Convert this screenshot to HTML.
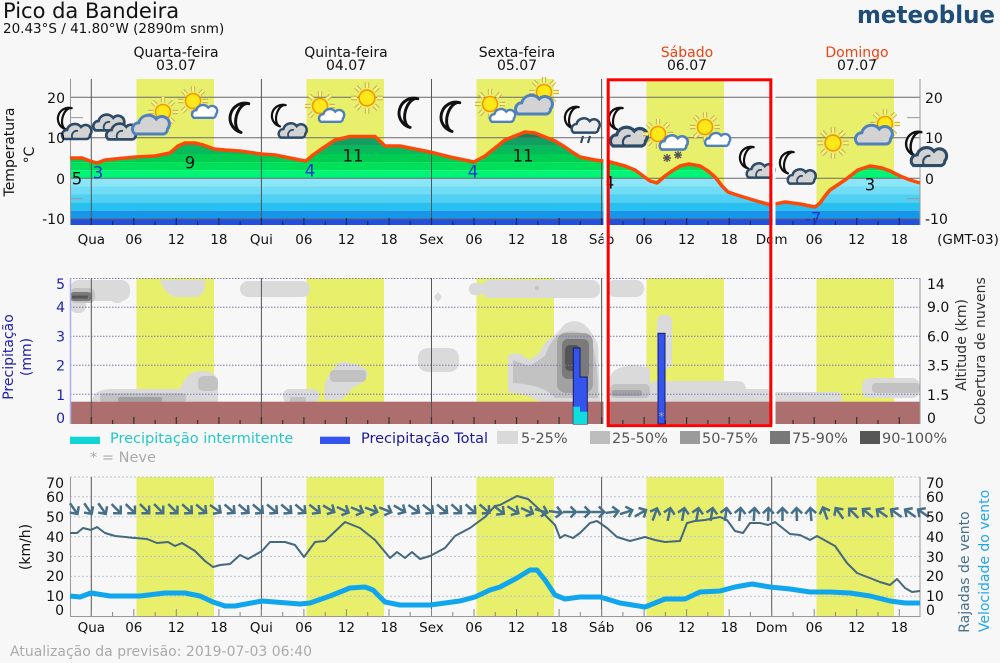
<!DOCTYPE html>
<html><head><meta charset="utf-8"><style>
html,body{margin:0;padding:0;background:#f7f7f7;}
svg{display:block;font-family:"DejaVu Sans","Liberation Sans",sans-serif;}
</style></head><body>
<svg width="1000" height="663" viewBox="0 0 1000 663" xmlns="http://www.w3.org/2000/svg">
<defs>
<path id="cl" d="M-12,8 A5,5 0 0 1 -9,-1 A8,8 0 0 1 5,-4 A6,6 0 0 1 14,4 A4,4 0 0 1 11,8 Z"/>
<g id="cN"><use href="#cl" fill="#d3d3d3" stroke="#2d4b66" stroke-width="2.6"/><path d="M-3,8 A5,5 0 0 1 2,0" fill="none" stroke="#2d4b66" stroke-width="1.8"/></g>
<g id="cD"><use href="#cl" fill="#d3d3d3" stroke="#4f81bd" stroke-width="2.4"/></g>
<g id="cW"><use href="#cl" fill="#ffffff" stroke="#4f81bd" stroke-width="2.8"/></g>
<g id="cNW"><use href="#cl" fill="#eeeeee" stroke="#2d4b66" stroke-width="2.6"/></g>
<g id="sun">
<g stroke="#b0a060" stroke-width="4.2" stroke-linecap="butt">
<path d="M9.5,0H15M-9.5,0H-15M0,9.5V15M0,-9.5V-15M6.7,6.7L10.6,10.6M-6.7,-6.7L-10.6,-10.6M6.7,-6.7L10.6,-10.6M-6.7,6.7L-10.6,10.6"/></g>
<g stroke="#fff27a" stroke-width="2.6">
<path d="M9.5,0H15M-9.5,0H-15M0,9.5V15M0,-9.5V-15M6.7,6.7L10.6,10.6M-6.7,-6.7L-10.6,-10.6M6.7,-6.7L10.6,-10.6M-6.7,6.7L-10.6,10.6"/></g>
<circle r="7.5" fill="#ffe81a" stroke="#f29a00" stroke-width="1.6"/>
</g>
<path id="moon" d="M3,-11 A11,11 0 1 0 3,11 A6.5,11 0 0 1 3,-11 Z" fill="#fff" stroke="#111" stroke-width="2.2" stroke-linejoin="round"/>
<path id="arr" d="M-7,0 L6,0 M0.5,-5.5 L6,0 L0.5,5.5" fill="none" stroke="#46708a" stroke-width="2.5"/>
<path id="tkL" d="M91.3 0v-7M133.8 0v-7M176.3 0v-7M218.9 0v-7M261.4 0v-7M303.9 0v-7M346.4 0v-7M389 0v-7M431.5 0v-7M474 0v-7M516.5 0v-7M559.1 0v-7M601.6 0v-7M644.1 0v-7M686.6 0v-7M729.2 0v-7M771.7 0v-7M814.2 0v-7M856.7 0v-7M899.3 0v-7"/>
<path id="tkS" d="M112.6 0v-4M155.1 0v-4M197.6 0v-4M240.1 0v-4M282.7 0v-4M325.2 0v-4M367.7 0v-4M410.2 0v-4M452.8 0v-4M495.3 0v-4M537.8 0v-4M580.3 0v-4M622.9 0v-4M665.4 0v-4M707.9 0v-4M750.4 0v-4M793 0v-4M835.5 0v-4M878 0v-4"/>
<path id="dayl" d="M91.3 0V1M261.4 0V1M431.5 0V1M601.6 0V1M771.7 0V1"/>
<clipPath id="tclip"><polygon points="70,225 70,158 82,158 90,161 97,163 105,160 115,159 136,157 155,156 170,153 178,146 185,143 195,143 203,145 214,149 225,150 240,151 261,154 275,155 290,158 300,160 306,161 313,155 320,150 335,140 350,136.5 375,136.5 385,146 400,146 415,149 430,152 450,157 474,162 485,156 495,148 505,140 525,132 535,133 545,137 555,141 565,147 572,152 580,157 595,160 610,162 625,166 635,170 650,181 657,183 665,176 672,171 680,166 689,164 700,166 708,171 715,177 722,186 728,192 740,196 760,202 771,205 785,202 800,204 815,207 820,203 825,196 830,190 845,180 858,170 870,166 882,168 890,171 900,176 910,180 920,183 920,225"/></clipPath>
</defs>

<!-- Header -->
<text x="3" y="18" font-size="21" fill="#111">Pico da Bandeira</text>
<text x="3" y="33" font-size="13.5" fill="#111">20.43°S / 41.80°W (2890m snm)</text>
<text x="857" y="23" font-size="24" font-weight="bold" fill="#1e4d78" textLength="138" lengthAdjust="spacingAndGlyphs">meteoblue</text>

<g font-size="14" text-anchor="middle" fill="#111">
<text x="176" y="57">Quarta-feira</text><text x="176" y="70">03.07</text>
<text x="346" y="57">Quinta-feira</text><text x="346" y="70">04.07</text>
<text x="517" y="57">Sexta-feira</text><text x="517" y="70">05.07</text>
<text x="687" y="57" fill="#ee4411">Sábado</text><text x="687" y="70">06.07</text>
<text x="857" y="57" fill="#ee4411">Domingo</text><text x="857" y="70">07.07</text>
</g>

<!-- ============ TEMPERATURE PANEL ============ -->
<g fill="#e8ef6a">
<rect x="136.5" y="79" width="77.5" height="146"/><rect x="306.5" y="79" width="77.5" height="146"/><rect x="476.5" y="79" width="77.5" height="146"/><rect x="646.5" y="79" width="77.5" height="146"/><rect x="816.5" y="79" width="77.5" height="146"/>
</g>
<g clip-path="url(#tclip)">
<rect x="70" y="110" width="850" height="19.7" fill="#0a7a4f"/>
<rect x="70" y="129.7" width="850" height="8.1" fill="#0b8553"/>
<rect x="70" y="137.8" width="850" height="8.1" fill="#10a162"/>
<rect x="70" y="145.9" width="850" height="8.1" fill="#06b95a"/>
<rect x="70" y="154" width="850" height="8.1" fill="#00cc52"/>
<rect x="70" y="162.1" width="850" height="8.1" fill="#00df5a"/>
<rect x="70" y="170.2" width="850" height="8.1" fill="#00f577"/>
<rect x="70" y="178.3" width="850" height="8.1" fill="#8ae6f7"/>
<rect x="70" y="186.4" width="850" height="8.1" fill="#70dcf5"/>
<rect x="70" y="194.5" width="850" height="8.1" fill="#50d0f3"/>
<rect x="70" y="202.6" width="850" height="8.1" fill="#28c0f1"/>
<rect x="70" y="210.7" width="850" height="8.1" fill="#1696ea"/>
<rect x="70" y="218.8" width="850" height="6.2" fill="#2151dc"/>
</g>
<g stroke="#6a6a6a" stroke-width="1">
<path d="M70 97.3H920M70 137.8H920M70 178.3H920M70 218.8H920"/>
<path d="M70 117.6H83M70 198.6H83M907 117.6H920M907 198.6H920" stroke="#999"/>
</g>
<use href="#dayl" transform="translate(0,79) scale(1,146)" stroke="#555" stroke-width="1" />
<path d="M70.5 79V225M920 79V225" stroke="#999" stroke-width="1"/>
<use href="#tkL" x="0" y="225" stroke="#1a2a66" stroke-width="1.2"/>
<use href="#tkS" x="0" y="225" stroke="#1a2a66" stroke-width="1.2"/>
<polyline fill="none" stroke="#fa4a0a" stroke-width="3.5" stroke-linejoin="round" points="70,158 82,158 90,161 97,163 105,160 115,159 136,157 155,156 170,153 178,146 185,143 195,143 203,145 214,149 225,150 240,151 261,154 275,155 290,158 300,160 306,161 313,155 320,150 335,140 350,136.5 375,136.5 385,146 400,146 415,149 430,152 450,157 474,162 485,156 495,148 505,140 525,132 535,133 545,137 555,141 565,147 572,152 580,157 595,160 610,162 625,166 635,170 650,181 657,183 665,176 672,171 680,166 689,164 700,166 708,171 715,177 722,186 728,192 740,196 760,202 771,205 785,202 800,204 815,207 820,203 825,196 830,190 845,180 858,170 870,166 882,168 890,171 900,176 910,180 920,183"/>

<g font-size="16.5" text-anchor="middle" dominant-baseline="central">
<text x="77" y="179" fill="#111">5</text>
<text x="98" y="173" fill="#2233cc">3</text>
<text x="190" y="163" fill="#111">9</text>
<text x="310" y="171" fill="#2233cc">4</text>
<text x="353" y="156" fill="#111">11</text>
<text x="473" y="172" fill="#2233cc">4</text>
<text x="523" y="156" fill="#111">11</text>
<text x="609" y="183" fill="#111">4</text>
<text x="813" y="219" fill="#2233cc">-7</text>
<text x="870" y="185" fill="#111">3</text>
</g>

<!-- icons -->
<use href="#moon" transform="translate(66,118) rotate(15) scale(1.0)"/>
<use href="#cN" transform="translate(76,131) scale(1.0)"/>
<use href="#cN" transform="translate(108,122) scale(1.05)"/>
<use href="#cN" transform="translate(121,131) scale(1.05)"/>
<use href="#sun" transform="translate(163,112) scale(1.0)"/>
<use href="#cD" transform="translate(150,124) scale(1.25)"/>
<use href="#sun" transform="translate(193,101) scale(1.0)"/>
<use href="#cW" transform="translate(204,111) scale(0.85)"/>
<use href="#moon" transform="translate(241,117) rotate(15) scale(1.35)"/>
<use href="#moon" transform="translate(280,115) rotate(15) scale(1.0)"/>
<use href="#cN" transform="translate(292,130) scale(0.95)"/>
<use href="#sun" transform="translate(320,106) scale(1.0)"/>
<use href="#cW" transform="translate(331,115) scale(0.85)"/>
<use href="#sun" transform="translate(367,98) scale(1.05)"/>
<use href="#moon" transform="translate(410,112) rotate(15) scale(1.35)"/>
<use href="#moon" transform="translate(452,116) rotate(15) scale(1.35)"/>
<use href="#sun" transform="translate(490,104) scale(1.0)"/>
<use href="#cW" transform="translate(502,115) scale(0.85)"/>
<use href="#sun" transform="translate(544,92) scale(1.0)"/>
<use href="#cD" transform="translate(533,104) scale(1.25)"/>
<use href="#moon" transform="translate(573,117) rotate(15) scale(1.0)"/>
<use href="#cNW" transform="translate(585,125) scale(0.95)"/>
<path d="M583,136 l-2,7 M590,136 l-2,7" stroke="#2d4b66" stroke-width="2.2"/>
<use href="#moon" transform="translate(617,118) rotate(15) scale(1.0)"/>
<use href="#cN" transform="translate(628,136) scale(1.25)"/>
<use href="#sun" transform="translate(658,134) scale(1.0)"/>
<use href="#cW" transform="translate(673,142) scale(0.95)"/>
<g stroke="#555" stroke-width="1.4"><path d="M663,158h8M667,154v8M664,155l6,6M670,155l-6,6 M674,155h8M678,151v8M675,152l6,6M681,152l-6,6"/></g>
<use href="#sun" transform="translate(705,127) scale(1.0)"/>
<use href="#cW" transform="translate(717,139) scale(0.85)"/>
<use href="#moon" transform="translate(748,157) rotate(15) scale(1.0)"/>
<use href="#cN" transform="translate(760,170) scale(0.95)"/>
<use href="#moon" transform="translate(788,162) rotate(15) scale(1.0)"/>
<use href="#cN" transform="translate(801,176) scale(0.95)"/>
<use href="#sun" transform="translate(833,143) scale(1.05)"/>
<use href="#sun" transform="translate(885,124) scale(1.0)"/>
<use href="#cD" transform="translate(873,134) scale(1.25)"/>
<use href="#moon" transform="translate(915,143) rotate(15) scale(1.1)"/>
<use href="#cN" transform="translate(928,156) scale(1.2)"/>

<!-- temp axis labels -->
<g font-size="14" fill="#111" dominant-baseline="central">
<g text-anchor="end"><text x="65" y="99">20</text><text x="65" y="139">10</text><text x="65" y="180">0</text><text x="65" y="220">-10</text></g>
<text x="925" y="99">20</text><text x="925" y="139">10</text><text x="925" y="180">0</text><text x="925" y="220">-10</text>
</g>
<text transform="translate(10,152) rotate(-90)" font-size="14" text-anchor="middle" dominant-baseline="central" fill="#111">Temperatura</text>
<text transform="translate(30,155) rotate(-90)" font-size="14" text-anchor="middle" dominant-baseline="central" fill="#111">°C</text>

<g font-size="13.5" text-anchor="middle" dominant-baseline="central" fill="#111">
<text x="91.3" y="240">Qua</text><text x="133.8" y="240">06</text><text x="176.3" y="240">12</text><text x="218.9" y="240">18</text>
<text x="261.4" y="240">Qui</text><text x="303.9" y="240">06</text><text x="346.4" y="240">12</text><text x="389" y="240">18</text>
<text x="431.5" y="240">Sex</text><text x="474" y="240">06</text><text x="516.5" y="240">12</text><text x="559.1" y="240">18</text>
<text x="601.6" y="240">Sáb</text><text x="644.1" y="240">06</text><text x="686.6" y="240">12</text><text x="729.2" y="240">18</text>
<text x="771.7" y="240">Dom</text><text x="814.2" y="240">06</text><text x="856.7" y="240">12</text><text x="899.3" y="240">18</text>
<text x="968" y="240">(GMT-03)</text>
</g>

<!-- ============ PRECIPITATION PANEL ============ -->
<g fill="#e8ef6a">
<rect x="136.5" y="278" width="77.5" height="146"/><rect x="306.5" y="278" width="77.5" height="146"/><rect x="476.5" y="278" width="77.5" height="146"/><rect x="646.5" y="278" width="77.5" height="146"/><rect x="816.5" y="278" width="77.5" height="146"/>
</g>
<!-- clouds light -->
<g fill="#dadada">
<rect x="70" y="280" width="60" height="21" rx="9"/>
<rect x="70" y="292" width="16" height="21" rx="7"/>
<rect x="110" y="290" width="14" height="13" rx="6"/>
<path d="M160,280 H205 Q206,296 195,297 H175 Q165,294 160,280 Z"/>
<rect x="240" y="281" width="70" height="16" rx="8"/>
<rect x="469" y="283" width="15" height="12" rx="5"/>
<path d="M438,292 l4,5 l-4,5 l-4,-5 Z"/>
<rect x="482" y="280" width="118" height="18" rx="8"/>
<rect x="607" y="280" width="37" height="17" rx="8"/>
<path d="M92,402 Q92,390 110,389 H180 Q186,372 200,371 Q218,370 218,385 V402 Z"/>
<circle cx="183" cy="389" r="3"/>
<rect x="283" y="389" width="36" height="14" rx="6"/>
<path d="M325,400 Q322,380 332,372 Q338,360 345,362 Q362,364 368,372 Q368,382 352,388 Q345,398 340,400 Z"/>
<rect x="418" y="348" width="41" height="24" rx="10"/>
<path d="M508,392 L508,356 Q512,352 520,354 L530,360 L540,352 Q545,340 552,338 Q560,330 565,324 Q575,318 585,325 Q595,335 598,345 L600,402 L540,402 Q530,395 508,392 Z"/>
<path d="M607,402 Q605,378 615,370 Q630,362 650,368 L650,402 Z"/>
<rect x="648" y="381" width="98" height="22" rx="8"/>
<rect x="738" y="389" width="34" height="14" rx="6"/>
<rect x="770" y="392" width="72" height="11" rx="5"/>
<rect x="862" y="378" width="58" height="20" rx="8"/>
<rect x="657" y="315" width="15" height="54" rx="6"/>
</g>
<!-- clouds mid -->
<g fill="#c2c2c2">
<rect x="70" y="288" width="25" height="15" rx="6"/>
<rect x="100" y="393" width="86" height="10" rx="4"/>
<rect x="198" y="376" width="20" height="15" rx="5"/>
<rect x="290" y="397" width="16" height="6" rx="2"/>
<rect x="330" y="370" width="36" height="12" rx="4"/>
<path d="M513,383 L513,360 L530,366 L545,356 Q550,340 560,334 Q575,328 588,336 Q598,350 598,398 L555,398 Q545,385 513,383 Z"/>
<rect x="610" y="384" width="40" height="14" rx="5"/>
<rect x="872" y="383" width="48" height="10" rx="4"/>
<circle cx="537" cy="288" r="2"/>
</g>
<g fill="#a2a2a2"><rect x="118" y="397" width="44" height="6" rx="2"/><rect x="557" y="333" width="36" height="60" rx="9"/><rect x="612" y="390" width="30" height="6" rx="2"/></g>
<g fill="#7a7a7a"><rect x="70" y="292" width="22" height="9" rx="4"/><rect x="562" y="339" width="27" height="40" rx="6"/></g>
<g fill="#555"><rect x="72" y="295.5" width="16" height="3" rx="1"/><rect x="565" y="345" width="15" height="26" rx="5"/></g>
<!-- ground band -->
<rect x="70" y="401.7" width="850" height="22.3" fill="#ad6e6e"/>
<!-- grid -->
<g stroke="#7777bb" stroke-width="1" stroke-dasharray="1.5,1.5">
<path d="M70 278.5H920M70 307.3H920M70 336.3H920M70 365.2H920M70 394.2H920"/>
</g>
<use href="#dayl" transform="translate(0,278) scale(1,146)" stroke="#555" stroke-width="1"/>
<path d="M70.5 278V424" stroke="#aab0ee" stroke-width="1.5"/>
<path d="M920 278V424" stroke="#999" stroke-width="1"/>
<use href="#tkL" x="0" y="424" stroke="#333" stroke-width="1.2"/>
<use href="#tkS" x="0" y="424" stroke="#333" stroke-width="1.2"/>
<!-- bars -->
<path d="M573.3,424 V348 H580 V377 H587.3 V424 Z" fill="#3355ee" stroke="#1a1a66" stroke-width="1"/>
<rect x="573.3" y="406.7" width="6.7" height="17.3" fill="#11dddd"/>
<rect x="580" y="411.7" width="7.3" height="12.3" fill="#11dddd"/>
<rect x="658" y="333.3" width="7" height="90.7" fill="#3355ee" stroke="#1a1a66" stroke-width="1"/>
<text x="661.5" y="420" font-size="11" text-anchor="middle" fill="#aaa">*</text>

<g font-size="14" dominant-baseline="central">
<g text-anchor="end" fill="#2020aa"><text x="65" y="285">5</text><text x="65" y="308">4</text><text x="65" y="337.5">3</text><text x="65" y="366.5">2</text><text x="65" y="396">1</text><text x="65" y="419">0</text></g>
<g fill="#111"><text x="927" y="285">14</text><text x="927" y="308">9.0</text><text x="927" y="337.5">6.0</text><text x="927" y="366.5">3.5</text><text x="927" y="396">1.5</text><text x="927" y="419">0</text></g>
</g>
<text transform="translate(9,357) rotate(-90)" font-size="14" text-anchor="middle" dominant-baseline="central" fill="#2020aa">Precipitação</text>
<text transform="translate(27,357) rotate(-90)" font-size="14" text-anchor="middle" dominant-baseline="central" fill="#2020aa">(mm)</text>
<text transform="translate(962,345) rotate(-90)" font-size="14" text-anchor="middle" dominant-baseline="central" fill="#333">Altitude (km)</text>
<text transform="translate(981,351) rotate(-90)" font-size="14" text-anchor="middle" dominant-baseline="central" fill="#333">Cobertura de nuvens</text>

<!-- legend -->
<rect x="70" y="436.7" width="30" height="7.3" fill="#11d4d4"/>
<text x="110" y="439" font-size="14.5" dominant-baseline="central" fill="#22c8cc">Precipitação intermitente</text>
<rect x="320" y="436.7" width="30" height="7.3" fill="#3355ee"/>
<text x="361" y="439" font-size="14.5" dominant-baseline="central" fill="#1a1a99">Precipitação Total</text>
<text x="90" y="458" font-size="14.5" dominant-baseline="central" fill="#aaaaaa">* = Neve</text>
<g font-size="14.5" dominant-baseline="central" fill="#555">
<rect x="497" y="431" width="21" height="13" fill="#d9d9d9"/><text x="521" y="439">5-25%</text>
<rect x="590" y="431" width="20" height="13" fill="#bdbdbd"/><text x="612" y="439">25-50%</text>
<rect x="680" y="431" width="20" height="13" fill="#9b9b9b"/><text x="702" y="439">50-75%</text>
<rect x="770" y="431" width="20" height="13" fill="#787878"/><text x="792" y="439">75-90%</text>
<rect x="860" y="431" width="20" height="13" fill="#565656"/><text x="882" y="439">90-100%</text>
</g>

<!-- ============ WIND PANEL ============ -->
<g fill="#e8ef6a">
<rect x="136.5" y="477" width="77.5" height="139"/><rect x="306.5" y="477" width="77.5" height="139"/><rect x="476.5" y="477" width="77.5" height="139"/><rect x="646.5" y="477" width="77.5" height="139"/><rect x="816.5" y="477" width="77.5" height="139"/>
</g>
<g stroke="#b8c4d6" stroke-width="1" stroke-dasharray="2,2">
<path d="M70 477H920M70 496.8H920M70 516.7H920M70 536.6H920M70 556.5H920M70 576.4H920M70 596.3H920"/>
</g>
<use href="#dayl" transform="translate(0,477) scale(1,139)" stroke="#555" stroke-width="1"/>
<path d="M70.5 477V616.5H920V477" fill="none" stroke="#999" stroke-width="1"/>
<use href="#tkL" x="0" y="616" stroke="#888" stroke-width="1"/>
<use href="#tkS" x="0" y="616" stroke="#888" stroke-width="1"/>

<polyline fill="none" stroke="#0fa6ee" stroke-width="5" stroke-linejoin="round" points="70,596 80,597 91,593 110,596 140,596 165,593 185,593 200,596 213,602 225,606 235,606 262,601 300,604 310,603 330,596 350,588 365,587 373,590 385,602 400,605 430,605 460,601 475,597 490,590 500,587 517,578 530,570 537,570 545,580 555,595 565,599 580,597 600,597 620,603 645,607 665,599 685,599 700,592 720,591 735,587 752,584 770,587 790,589 810,592 830,592 850,593 870,596 890,601 905,603 920,603"/>
<polyline fill="none" stroke="#44687f" stroke-width="2" stroke-linejoin="round" points="70,533 77,533 83,528 91,530 97,527 105,533 115,536 135,538 147,539 157,543 168,542 175,546 182,543 195,551 205,561 213,567 220,565 230,564 240,555 248,559 262,551 270,542 285,542 295,545 304,557 315,542 325,541 345,522 360,528 375,540 390,558 397,552 405,558 412,552 420,559 430,556 445,548 455,536 470,528 485,517 495,506 500,505 517,496 528,499 540,510 555,525 560,538 565,535 573,538 580,533 590,523 597,521 607,528 617,537 630,541 645,537 655,540 665,542 680,541 687,523 695,521 705,520 710,519 720,517 727,520 735,531 743,533 750,523 760,523 768,525 775,522 790,534 800,535 810,540 817,536 835,546 847,563 857,573 880,582 890,585 897,579 905,588 912,592 920,591"/>

<!-- wind arrows -->
<g>
<use href="#arr" transform="translate(74,509) rotate(55)"/>
<use href="#arr" transform="translate(88.2,509) rotate(55)"/>
<use href="#arr" transform="translate(102.3,509) rotate(55)"/>
<use href="#arr" transform="translate(116.5,509) rotate(45)"/>
<use href="#arr" transform="translate(130.7,509) rotate(45)"/>
<use href="#arr" transform="translate(144.9,509) rotate(45)"/>
<use href="#arr" transform="translate(159,509) rotate(45)"/>
<use href="#arr" transform="translate(173.2,509) rotate(45)"/>
<use href="#arr" transform="translate(187.4,509) rotate(42)"/>
<use href="#arr" transform="translate(201.5,509) rotate(40)"/>
<use href="#arr" transform="translate(215.7,509) rotate(35)"/>
<use href="#arr" transform="translate(229.9,509) rotate(40)"/>
<use href="#arr" transform="translate(244,509) rotate(40)"/>
<use href="#arr" transform="translate(258.2,509) rotate(40)"/>
<use href="#arr" transform="translate(272.4,509) rotate(40)"/>
<use href="#arr" transform="translate(286.6,509) rotate(40)"/>
<use href="#arr" transform="translate(300.7,509) rotate(40)"/>
<use href="#arr" transform="translate(314.9,509) rotate(38)"/>
<use href="#arr" transform="translate(329.1,509) rotate(30)"/>
<use href="#arr" transform="translate(343.2,510) rotate(25)"/>
<use href="#arr" transform="translate(357.4,510) rotate(22)"/>
<use href="#arr" transform="translate(371.6,510) rotate(20)"/>
<use href="#arr" transform="translate(385.7,510) rotate(22)"/>
<use href="#arr" transform="translate(399.9,509) rotate(30)"/>
<use href="#arr" transform="translate(414.1,509) rotate(35)"/>
<use href="#arr" transform="translate(428.3,509) rotate(38)"/>
<use href="#arr" transform="translate(442.4,509) rotate(40)"/>
<use href="#arr" transform="translate(456.6,509) rotate(42)"/>
<use href="#arr" transform="translate(470.8,509) rotate(42)"/>
<use href="#arr" transform="translate(484.9,509) rotate(40)"/>
<use href="#arr" transform="translate(499.1,510) rotate(38)"/>
<use href="#arr" transform="translate(513.3,510) rotate(32)"/>
<use href="#arr" transform="translate(527.4,511) rotate(25)"/>
<use href="#arr" transform="translate(541.6,511) rotate(15)"/>
<use href="#arr" transform="translate(555.8,512) rotate(8)"/>
<use href="#arr" transform="translate(570,512) rotate(0)"/>
<use href="#arr" transform="translate(584.1,512) rotate(0)"/>
<use href="#arr" transform="translate(598.3,512) rotate(0)"/>
<use href="#arr" transform="translate(612.5,512) rotate(-8)"/>
<use href="#arr" transform="translate(626.6,512) rotate(-18)"/>
<use href="#arr" transform="translate(640.8,513) rotate(-30)"/>
<use href="#arr" transform="translate(655,514) rotate(-70)"/>
<use href="#arr" transform="translate(669.1,514) rotate(-78)"/>
<use href="#arr" transform="translate(683.3,514) rotate(-80)"/>
<use href="#arr" transform="translate(697.5,514) rotate(-80)"/>
<use href="#arr" transform="translate(711.7,514) rotate(-80)"/>
<use href="#arr" transform="translate(725.8,514) rotate(-82)"/>
<use href="#arr" transform="translate(740,514) rotate(-84)"/>
<use href="#arr" transform="translate(754.2,514) rotate(-86)"/>
<use href="#arr" transform="translate(768.3,514) rotate(-88)"/>
<use href="#arr" transform="translate(782.5,514) rotate(-90)"/>
<use href="#arr" transform="translate(796.7,514) rotate(-92)"/>
<use href="#arr" transform="translate(810.8,514) rotate(-95)"/>
<use href="#arr" transform="translate(825,513) rotate(-110)"/>
<use href="#arr" transform="translate(839.2,513) rotate(-125)"/>
<use href="#arr" transform="translate(853.4,513) rotate(-135)"/>
<use href="#arr" transform="translate(867.5,513) rotate(-140)"/>
<use href="#arr" transform="translate(881.7,513) rotate(-145)"/>
<use href="#arr" transform="translate(895.9,513) rotate(-145)"/>
<use href="#arr" transform="translate(910,513) rotate(-145)"/>
<use href="#arr" transform="translate(923,513) rotate(-145)"/>
</g>

<g font-size="14" fill="#111" dominant-baseline="central">
<g text-anchor="end"><text x="64" y="484">70</text><text x="64" y="498">60</text><text x="64" y="518">50</text><text x="64" y="538">40</text><text x="64" y="558">30</text><text x="64" y="577">20</text><text x="64" y="597">10</text><text x="64" y="611">0</text></g>
<text x="926" y="484">70</text><text x="926" y="498">60</text><text x="926" y="518">50</text><text x="926" y="538">40</text><text x="926" y="558">30</text><text x="926" y="577">20</text><text x="926" y="597">10</text><text x="926" y="611">0</text>
</g>
<text transform="translate(26,547) rotate(-90)" font-size="14" text-anchor="middle" dominant-baseline="central" fill="#111">(km/h)</text>
<text transform="translate(965,572) rotate(-90)" font-size="14" text-anchor="middle" dominant-baseline="central" fill="#44708c">Rajadas de vento</text>
<text transform="translate(985,561) rotate(-90)" font-size="14" text-anchor="middle" dominant-baseline="central" fill="#1ea8ee">Velocidade do vento</text>

<g font-size="13.5" text-anchor="middle" dominant-baseline="central" fill="#111">
<text x="91.3" y="628">Qua</text><text x="133.8" y="628">06</text><text x="176.3" y="628">12</text><text x="218.9" y="628">18</text>
<text x="261.4" y="628">Qui</text><text x="303.9" y="628">06</text><text x="346.4" y="628">12</text><text x="389" y="628">18</text>
<text x="431.5" y="628">Sex</text><text x="474" y="628">06</text><text x="516.5" y="628">12</text><text x="559.1" y="628">18</text>
<text x="601.6" y="628">Sáb</text><text x="644.1" y="628">06</text><text x="686.6" y="628">12</text><text x="729.2" y="628">18</text>
<text x="771.7" y="628">Dom</text><text x="814.2" y="628">06</text><text x="856.7" y="628">12</text><text x="899.3" y="628">18</text>
</g>
<text x="10" y="652" font-size="14" dominant-baseline="central" fill="#aaaaaa">Atualização da previsão: 2019-07-03 06:40</text>

<!-- red selection rectangle -->
<rect x="605" y="77" width="169" height="352" fill="none" stroke="#ffffff" stroke-width="3"/>
<rect x="608.2" y="79.8" width="162.6" height="345.8" fill="none" stroke="#ff0000" stroke-width="3"/>
</svg>
</body></html>
